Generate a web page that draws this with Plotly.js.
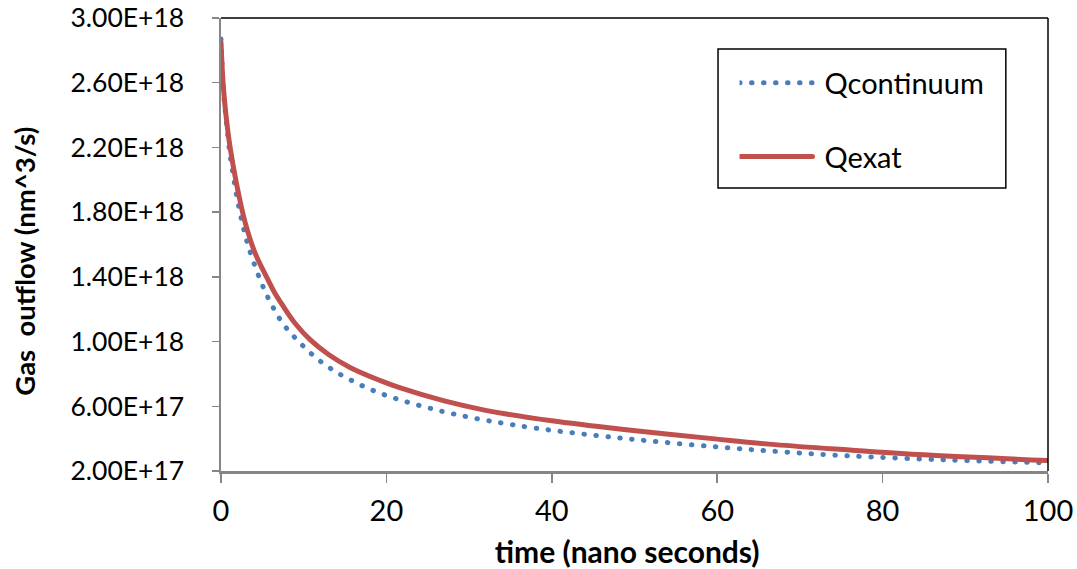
<!DOCTYPE html>
<html>
<head>
<meta charset="utf-8">
<script src="https://cdn.plot.ly/plotly-3.0.1.min.js"></script>
<style>
html,body{margin:0;padding:0;background:#fff;}
.scatterlayer .js-line, .legendlines path { stroke-linecap: round; }
</style>
</head>
<body>
<div id="chart" style="width:1077px;height:569px;"></div>
<script>
// time (nano seconds)
var tContinuum = [0, 0.3, 0.7, 1.1, 1.5, 1.9, 2.5, 3.3, 4.75, 6, 7.5, 9.4, 11.6, 14, 16.7, 19.4, 22.2, 25.1, 28, 32.4, 38, 45.6, 52, 60.4, 68, 76.1, 88, 100];
var qContinuum = [2.87e18, 2.55e18, 2.33e18, 2.15e18, 2.02e18, 1.90e18, 1.75e18, 1.59e18, 1.38e18, 1.24e18, 1.11e18, 1.00e18, 0.895e18, 0.81e18, 0.736e18, 0.678e18, 0.631e18, 0.59e18, 0.554e18, 0.51e18, 0.465e18, 0.418e18, 0.385e18, 0.347e18, 0.318e18, 0.293e18, 0.268e18, 0.25e18];

var tExact = [0, 0.25, 0.6, 1.1, 1.9, 2.9, 4.1, 5.6, 6.4, 7.5, 9.0, 10.8, 13.0, 15.6, 19.2, 21.6, 27, 32, 40, 49, 60, 67, 76, 85, 100];
var qExact = [2.85e18, 2.60e18, 2.40e18, 2.20e18, 1.97e18, 1.74e18, 1.55e18, 1.39e18, 1.31e18, 1.22e18, 1.11e18, 1.01e18, 0.92e18, 0.84e18, 0.76e18, 0.715e18, 0.633e18, 0.575e18, 0.51e18, 0.455e18, 0.397e18, 0.363e18, 0.33e18, 0.30e18, 0.265e18];

var seriesNames = ["Qcontinuum", "Qexat"];
var yTickVals = [2e17, 6e17, 1e18, 1.4e18, 1.8e18, 2.2e18, 2.6e18, 3e18];
var yTickLabels = ["2.00E+17", "6.00E+17", "1.00E+18", "1.40E+18", "1.80E+18", "2.20E+18", "2.60E+18", "3.00E+18"];
var xTickVals = [0, 20, 40, 60, 80, 100];

var FONT = "Lato, 'Open Sans', sans-serif";
var NB = "\u00A0";

var traces = [
  {
    x: tContinuum, y: qContinuum, name: seriesNames[0], type: "scatter", mode: "lines", legendgroup: "g1",
    line: {color: "#4a7ebb", width: 5, dash: "0.5px,11.5px", shape: "spline", smoothing: 1}
  },
  {
    x: tExact, y: qExact, name: seriesNames[1], type: "scatter", mode: "lines", legendgroup: "g2",
    line: {color: "#c0504d", width: 5, shape: "spline", smoothing: 1}
  }
];

var layout = {
  width: 1077, height: 569,
  margin: {l: 221, r: 29, t: 18, b: 98},
  paper_bgcolor: "#fff", plot_bgcolor: "#fff",
  font: {family: FONT, size: 26.5, color: "#000"},
  showlegend: true,
  legend: {
    x: 0.627, y: 0.913, xanchor: "left", yanchor: "top",
    bgcolor: "rgba(0,0,0,0)", borderwidth: 0,
    font: {family: FONT, size: 29, color: "#000"},
    tracegroupgap: 33, traceorder: "grouped", itemwidth: 75
  },
  xaxis: {
    range: [0, 100], tickvals: xTickVals, ticks: "outside", ticklen: 9, tickwidth: 1.5,
    tickcolor: "#868686", showline: true, linecolor: "#868686", linewidth: 2.5,
    showgrid: false, zeroline: false, ticklabelstandoff: 4,
    tickfont: {family: FONT, size: 29},
    title: {text: "<b>time (nano seconds)" + NB + NB + "</b>", font: {family: FONT, size: 30}, standoff: 16}
  },
  yaxis: {
    range: [2e17, 3e18], tickvals: yTickVals, ticktext: yTickLabels, ticks: "outside", ticklen: 7, tickwidth: 1.5,
    tickcolor: "#868686", showline: true, linecolor: "#868686", linewidth: 2.5,
    showgrid: false, zeroline: false, ticklabelstandoff: 22,
    tickfont: {family: FONT, size: 26.5},
    title: {text: "<b>Gas" + NB + " outflow (nm^3/s)" + NB + NB + NB + NB + NB + "</b>", font: {family: FONT, size: 27.5}, standoff: 27}
  },
  shapes: [
    {type: "line", xref: "paper", yref: "paper", x0: 0, x1: 1, y0: 1, y1: 1, line: {color: "#000", width: 1.5}},
    {type: "line", xref: "paper", yref: "paper", x0: 1, x1: 1, y0: 0, y1: 1, line: {color: "#000", width: 1.5}},
    {type: "rect", xref: "paper", yref: "paper", x0: 0.601, x1: 0.949, y0: 0.625, y1: 0.9316, line: {color: "#000", width: 1.5}, fillcolor: "rgba(0,0,0,0)"}
  ]
};

Plotly.newPlot("chart", traces, layout, {displayModeBar: false, staticPlot: true}).then(function () {
  document.querySelectorAll(".legendlines path").forEach(function (p) {
    p.setAttribute("d", "M0,0h73");
  });
});
</script>
</body>
</html>
